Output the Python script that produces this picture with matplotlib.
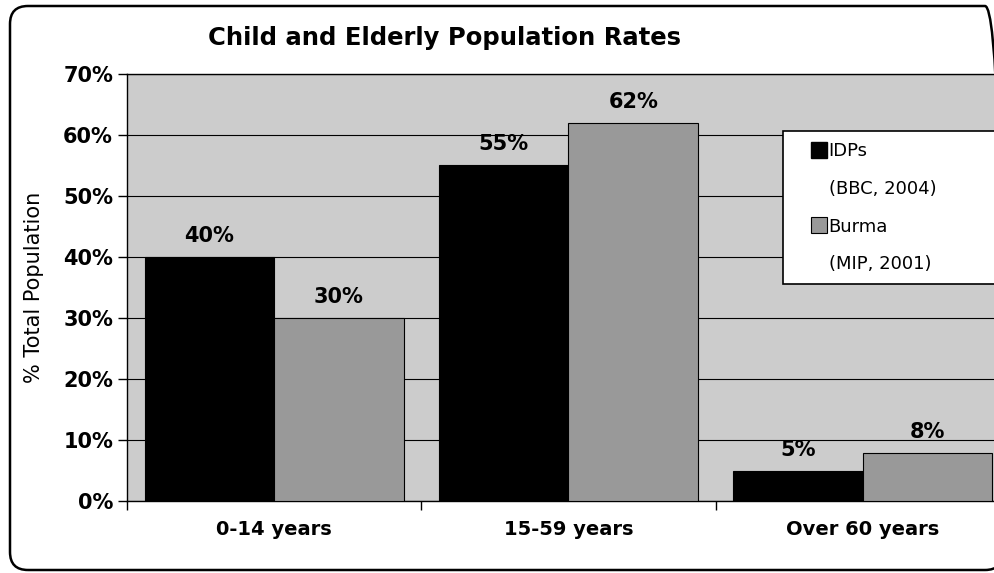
import matplotlib
matplotlib.use("Agg")
import numpy as np
import matplotlib.pyplot as plt
from matplotlib.patches import FancyBboxPatch, Patch, Rectangle
from matplotlib.legend_handler import HandlerPatch

# data
categories = ["0-14 years", "15-59 years", "Over 60 years"]
idps = [40.0, 55.0, 4.9]
burma = [30.0, 62.0, 7.8]
legend_labels = ["IDPs", "(BBC, 2004)", "Burma", "(MIP, 2001)"]
yticks = [0, 10, 20, 30, 40, 50, 60, 70]

IDP_COLOR = "black"
BURMA_COLOR = "#999999"
PLOT_BG = "#cccccc"

plt.rcParams["font.family"] = "DejaVu Sans"

W, H = 995, 573
fig = plt.figure(figsize=(W / 100, H / 100), dpi=100)
# axes runs a little past the right edge, like the cropped original
ax = fig.add_axes([127 / W, 1 - 500.7 / H, 883 / W, 426.7 / H])

x = np.arange(len(categories))
bw = 0.44
b1 = ax.bar(x - bw / 2, idps, bw, color=IDP_COLOR, edgecolor="black", lw=0.8, zorder=3)
b2 = ax.bar(x + bw / 2, burma, bw, color=BURMA_COLOR, edgecolor="black", lw=0.8, zorder=3)

ax.set_xlim(-0.5, 2.5)
ax.set_ylim(0, 70)
ax.set_facecolor(PLOT_BG)
ax.set_axisbelow(True)
ax.yaxis.grid(True, color="black", lw=0.8)

ax.set_yticks(yticks)
ax.set_yticklabels([f"{v}%" for v in yticks], fontsize=15, fontweight="bold")
ax.tick_params(axis="y", length=6.5, width=1, direction="out", pad=3.5)

# ticks at category boundaries, labels in between
ax.set_xticks([-0.5, 0.5, 1.5, 2.5])
ax.set_xticklabels([])
ax.set_xticks(x, minor=True)
ax.set_xticklabels(categories, minor=True, fontsize=14, fontweight="bold")
ax.tick_params(axis="x", which="major", length=6.5, width=1, direction="out")
ax.tick_params(axis="x", which="minor", length=0, pad=14)

for s in ["left", "bottom", "top"]:
    ax.spines[s].set_linewidth(1)
ax.spines["right"].set_visible(False)

ax.set_ylabel("% Total Population", fontsize=15)
ax.yaxis.set_label_coords(-0.094, 0.5)

ax.bar_label(b1, labels=[f"{v:.0f}%" for v in idps], padding=8,
             fontsize=15, fontweight="bold")
ax.bar_label(b2, labels=[f"{v:.0f}%" for v in burma], padding=8,
             fontsize=15, fontweight="bold")

fig.text(444 / W, 1 - 38 / H, "Child and Elderly Population Rates",
         ha="center", va="center", fontsize=17.5, fontweight="bold")


def square_patch(legend, orig_handle, xdescent, ydescent, width, height, fontsize):
    s = 0.88 * fontsize
    return Rectangle((width - s - xdescent, (height - s) / 2 - ydescent), s, s)


blank = Patch(facecolor="none", edgecolor="none")
handles = [Patch(facecolor=IDP_COLOR, edgecolor="black"), blank,
           Patch(facecolor=BURMA_COLOR, edgecolor="black", lw=0.8), blank]
leg = fig.legend(handles, legend_labels, loc="upper left",
                 bbox_to_anchor=(783 / W, 1 - 131 / H - 0.01, 0.3, 0.01),
                 mode="expand", borderaxespad=0, fontsize=13,
                 borderpad=0.6, handlelength=1.83, handleheight=0.9,
                 handletextpad=0.1, labelspacing=1.1,
                 fancybox=False, framealpha=1, edgecolor="black",
                 handler_map={Patch: HandlerPatch(patch_func=square_patch)})
leg.get_frame().set_linewidth(1.2)

# rounded outer chart border (right side falls just outside the image)
border = FancyBboxPatch((0.10, 0.03), 9.93, 5.64,
                        boxstyle="round,pad=0,rounding_size=0.18",
                        transform=fig.dpi_scale_trans, fill=False,
                        edgecolor="black", lw=1.8)
fig.add_artist(border)

fig.savefig("out.png", dpi=100)
